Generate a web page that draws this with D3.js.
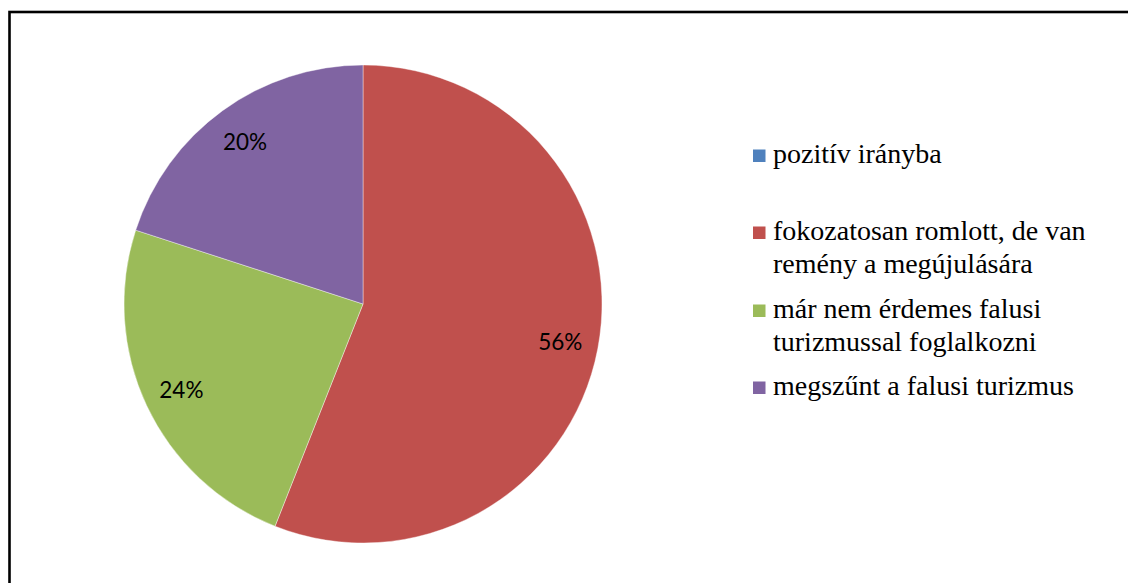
<!DOCTYPE html>
<html><head><meta charset="utf-8">
<script src="https://cdn.jsdelivr.net/npm/d3@7"></script>
<style>html,body{margin:0;padding:0;background:#fff;}svg{display:block;}</style>
</head><body>
<svg id="chart" width="1128" height="583"></svg>
<script>
const categories = ["pozitív irányba", "fokozatosan romlott, de van remény a megújulására", "már nem érdemes falusi turizmussal foglalkozni", "megszűnt a falusi turizmus"];
const legendLines = [["pozitív irányba"], ["fokozatosan romlott, de van", "remény a megújulására"], ["már nem érdemes falusi", "turizmussal foglalkozni"], ["megszűnt a falusi turizmus"]];
const values = [0, 56, 24, 20];
const colors = ["#4F81BD", "#C0504D", "#9BBB59", "#8064A2"];

const svg = d3.select("#chart");
svg.append("rect").attr("x", 9.5).attr("y", 12).attr("width", 1300).attr("height", 700)
  .attr("fill", "#fff").attr("stroke", "#000").attr("stroke-width", 2.6);

const cx = 363, cy = 304, R = 239;
const pie = d3.pie().sort(null).value(d => d)(values);
const arc = d3.arc().innerRadius(0).outerRadius(R);
const labelArc = d3.arc().innerRadius(R * 0.84).outerRadius(R * 0.84);
const g = svg.append("g").attr("transform", `translate(${cx},${cy})`);
g.selectAll("path").data(pie).join("path")
  .attr("d", arc).attr("fill", (d, i) => colors[i])
  .attr("stroke", "#fff").attr("stroke-width", 0.4);
g.selectAll("text").data(pie.filter(d => d.value > 0)).join("text")
  .attr("transform", d => `translate(${labelArc.centroid(d)})`)
  .attr("text-anchor", "middle").attr("dy", "0.36em")
  .attr("font-family", "Lato, 'Open Sans', sans-serif").attr("font-size", 22.5).attr("fill", "#000")
  .text(d => d.value + "%");

// legend
const lx = 753, sq = 12.5, lineH = 33;
const entryTop = [163, 240, 318, 395];
const lg = svg.append("g");
legendLines.forEach((lines, i) => {
  lg.append("rect").attr("x", lx).attr("y", entryTop[i] - 13.5).attr("width", sq).attr("height", sq).attr("fill", colors[i]);
  const t = lg.append("text").attr("x", lx + 20).attr("y", entryTop[i])
    .attr("font-family", "'Liberation Serif', 'Times New Roman', serif").attr("font-size", 28).attr("fill", "#000");
  lines.forEach((l, j) => t.append("tspan").attr("x", lx + 20).attr("dy", j === 0 ? 0 : lineH).text(l));
});
</script>
</body></html>
